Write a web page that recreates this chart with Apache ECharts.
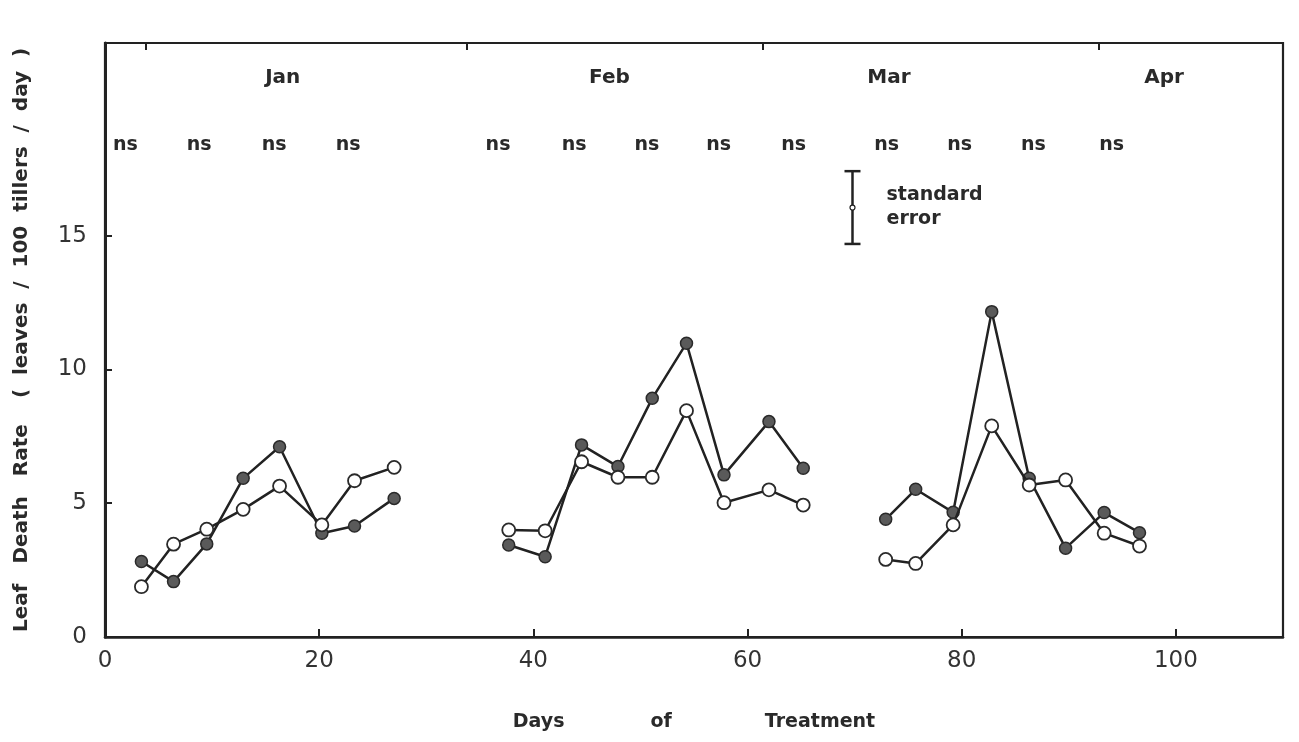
<!DOCTYPE html>
<html>
<head>
<meta charset="utf-8">
<script src="https://cdn.jsdelivr.net/npm/echarts@6/dist/echarts.min.js"></script>
<style>
html,body{margin:0;padding:0;background:#fff;}
#chart{width:1299px;height:742px;}
</style>
</head>
<body>
<div id="chart"></div>
<script>
// ---- data ----
const janDays = [3.4, 6.4, 9.5, 12.9, 16.3, 20.25, 23.3, 27.0];
const janFilled = [2.82, 2.07, 3.48, 5.93, 7.11, 3.88, 4.15, 5.18];
const janOpen = [1.88, 3.47, 4.03, 4.77, 5.64, 4.19, 5.84, 6.34];

const febDays = [37.7, 41.1, 44.5, 47.9, 51.1, 54.3, 57.8, 62.0, 65.2];
const febFilled = [3.44, 3.0, 7.18, 6.37, 8.92, 10.98, 6.06, 8.05, 6.31];
const febOpen = [4.0, 3.97, 6.55, 5.97, 5.97, 8.46, 5.02, 5.5, 4.93];

const marDays = [72.9, 75.7, 79.2, 82.8, 86.3, 89.7, 93.3, 96.6];
const marFilled = [4.4, 5.52, 4.66, 12.16, 5.93, 3.32, 4.65, 3.9];
const marOpen = [2.9, 2.75, 4.19, 7.89, 5.68, 5.87, 3.88, 3.4];

const months = ['Jan', 'Feb', 'Mar', 'Apr'];
const monthDay = [16.6, 47.1, 73.2, 98.9];
const monthLevel = 20.9;
const monthBoundaries = [3.8, 33.8, 61.4, 92.8];

const nsDay = [1.9, 8.8, 15.8, 22.7, 36.7, 43.8, 50.6, 57.3, 64.3, 73.0, 79.8, 86.7, 94.0];
const nsLevel = 18.4;

const seDay = 69.8;
const seMid = 16.05;
const seHalf = 1.36;

const xTicks = [0, 20, 40, 60, 80, 100];
const yTicks = [0, 5, 10, 15];

// ---- chart ----
const FONT = 'DejaVu Sans';
const INK = '#222';
const TXT = '#2a2a2a';
const chart = echarts.init(document.getElementById('chart'));

function pairs(days, vals) { return days.map((d, i) => [d, vals[i]]); }

function lineSeries(days, vals, filled) {
  return {
    type: 'line',
    data: pairs(days, vals),
    symbol: 'circle',
    symbolSize: filled ? 12 : 13,
    showSymbol: true,
    lineStyle: { color: INK, width: 2.5 },
    itemStyle: filled
      ? { color: '#5a5a5a', borderColor: '#2a2a2a', borderWidth: 1.5 }
      : { color: '#fff', borderColor: '#2a2a2a', borderWidth: 1.8 },
    z: filled ? 3 : 4,
    animation: false,
    emphasis: { disabled: true }
  };
}

function textSeries(items, level, size) {
  return {
    type: 'scatter', symbolSize: 0, silent: true,
    itemStyle: { opacity: 1 },
    data: items.map(it => ({ name: it.name, value: [it.day, level] })),
    label: { show: true, position: 'inside', formatter: '{b}', fontFamily: FONT, fontSize: size, fontWeight: 'bold', color: TXT, opacity: 1 },
    emphasis: { disabled: true }
  };
}

const option = {
  animation: false,
  backgroundColor: '#fff',
  grid: {
    left: 105, right: 16, top: 43, bottom: 105,
    show: true, borderColor: INK, borderWidth: 2.2, backgroundColor: 'transparent'
  },
  xAxis: [{
    type: 'value', min: 0, max: 110, interval: 20, position: 'bottom',
    axisLine: { show: true, lineStyle: { color: INK, width: 2.5 } },
    axisTick: { show: true, inside: true, length: 8, lineStyle: { color: INK, width: 2 }, customValues: [20, 40, 60, 80, 100] },
    axisLabel: { customValues: xTicks, fontFamily: FONT, fontSize: 23, color: '#333', margin: 13 },
    splitLine: { show: false },
    name: '{w|Days}{g|}{w|of}{h|}{w|Treatment}',
    nameLocation: 'middle', nameGap: 76,
    nameTextStyle: {
      rich: {
        w: { fontFamily: FONT, fontSize: 19, fontWeight: 'bold', color: TXT },
        g: { width: 86 },
        h: { width: 93 }
      }
    }
  }, {
    type: 'value', min: 0, max: 110, position: 'top',
    axisLine: { show: true, lineStyle: { color: INK, width: 2.2 } },
    axisTick: { show: true, inside: true, length: 7, lineStyle: { color: INK, width: 2 }, customValues: monthBoundaries },
    axisLabel: { show: false },
    splitLine: { show: false }
  }],
  yAxis: [{
    type: 'value', min: 0, max: 22.2, interval: 5,
    axisLine: { show: true, lineStyle: { color: INK, width: 3 } },
    axisTick: { show: true, inside: true, length: 7, lineStyle: { color: INK, width: 2 }, customValues: [5, 10, 15] },
    axisLabel: { customValues: yTicks, fontFamily: FONT, fontSize: 23, color: '#333', margin: 18 },
    splitLine: { show: false },
    name: '{w|Leaf}{g|}{w|Death}{g|}{w|Rate}{h|}{w|(  leaves  /  100  tillers  /  day  )}',
    nameLocation: 'middle', nameGap: 73, nameRotate: 90,
    nameTextStyle: {
      rich: {
        w: { fontFamily: FONT, fontSize: 20, fontWeight: 'bold', color: TXT },
        g: { width: 20 },
        h: { width: 26 }
      }
    }
  }],
  series: [
    lineSeries(janDays, janFilled, true),
    lineSeries(janDays, janOpen, false),
    lineSeries(febDays, febFilled, true),
    lineSeries(febDays, febOpen, false),
    lineSeries(marDays, marFilled, true),
    lineSeries(marDays, marOpen, false),
    textSeries(months.map((m, i) => ({ name: m, day: monthDay[i] })), monthLevel, 20),
    textSeries(nsDay.map(d => ({ name: 'ns', day: d })), nsLevel, 19),
    {
      type: 'custom', silent: true,
      data: [[seDay, seMid, seHalf]],
      renderItem: function (params, api) {
        const top = api.coord([api.value(0), api.value(1) + api.value(2)]);
        const bot = api.coord([api.value(0), api.value(1) - api.value(2)]);
        const mid = api.coord([api.value(0), api.value(1)]);
        const st = { stroke: INK, lineWidth: 2.5 };
        return {
          type: 'group',
          children: [
            { type: 'line', shape: { x1: top[0], y1: top[1], x2: bot[0], y2: bot[1] }, style: st },
            { type: 'line', shape: { x1: top[0] - 8, y1: top[1], x2: top[0] + 8, y2: top[1] }, style: st },
            { type: 'line', shape: { x1: bot[0] - 8, y1: bot[1], x2: bot[0] + 8, y2: bot[1] }, style: st },
            { type: 'circle', shape: { cx: mid[0], cy: mid[1], r: 2.5 }, style: { fill: '#fff', stroke: INK, lineWidth: 1.2 } },
            { type: 'text', x: mid[0] + 34, y: mid[1], style: { text: 'standard\nerror', font: 'bold 19px "DejaVu Sans"', fill: TXT, verticalAlign: 'middle', align: 'left', lineHeight: 24 } }
          ]
        };
      }
    }
  ]
};
chart.setOption(option);
</script>
</body>
</html>
